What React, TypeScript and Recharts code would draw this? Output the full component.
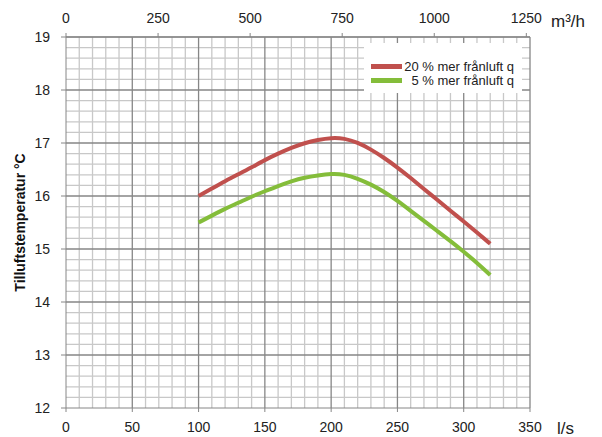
import { LineChart, Line, XAxis, YAxis, ReferenceLine } from 'recharts';

// luftflöde l/s
const flow = [100, 110, 120, 130, 140, 150, 160, 170, 180, 190, 200, 210, 220, 230, 240, 250, 260, 270, 280, 290, 300, 310, 320];
// tilluftstemperatur °C
const temp20 = [16.0, 16.14, 16.28, 16.41, 16.54, 16.68, 16.8, 16.91, 17.0, 17.06, 17.1, 17.09, 17.01, 16.88, 16.72, 16.54, 16.34, 16.13, 15.93, 15.72, 15.52, 15.31, 15.1];
const temp5 = [15.5, 15.63, 15.76, 15.87, 15.99, 16.09, 16.19, 16.28, 16.35, 16.39, 16.42, 16.41, 16.33, 16.22, 16.08, 15.91, 15.72, 15.53, 15.34, 15.15, 14.95, 14.74, 14.51];

const seriesNames = ['20 % mer frånluft q', '5 % mer frånluft q'];
const seriesColors = ['#c0504d', '#84bd3a'];

const lsTicks = [0, 50, 100, 150, 200, 250, 300, 350];
const m3hTicks = [0, 250, 500, 750, 1000, 1250];
const tempTicks = [12, 13, 14, 15, 16, 17, 18, 19];

// fine grid: 10 l/s and 0.2 °C
const minorX = Array.from({ length: 36 }, (_, i) => i * 10).filter((v) => v % 50 !== 0);
const minorY = Array.from({ length: 36 }, (_, i) => +(12 + i * 0.2).toFixed(1)).filter((v) => !Number.isInteger(v));

// 1 l/s = 3.6 m³/h
const data = flow.map((q, i) => ({ q, m3h: q * 3.6, t20: temp20[i], t5: temp5[i] }));

const font = '"Liberation Sans", Arial, sans-serif';
const tickStyle = { fontSize: 14, fill: '#222', fontFamily: font };
const axisGray = '#868686';

export default function App() {
  return (
    <div style={{ position: 'relative', width: 602, height: 437, background: '#fff', fontFamily: font }}>
      <style>{'body{margin:0}'}</style>
      <LineChart width={602} height={437} data={data} margin={{ top: 7, right: 72, bottom: 0, left: 16 }}>
        <XAxis
          xAxisId="ls"
          dataKey="q"
          type="number"
          domain={[0, 350]}
          ticks={lsTicks}
          height={29}
          tickSize={4}
          tickMargin={10}
          tick={tickStyle}
          stroke={axisGray}
          label={{ value: 'l/s', position: 'right', offset: 27, dy: 5, style: { fontSize: 17, fill: '#222', fontFamily: font } }}
        />
        <XAxis
          xAxisId="m3h"
          dataKey="m3h"
          orientation="top"
          type="number"
          domain={[0, 1260]}
          allowDataOverflow
          ticks={m3hTicks}
          interval={0}
          height={30}
          tickSize={4}
          tickMargin={10}
          tick={tickStyle}
          stroke={axisGray}
          label={{ value: 'm³/h', position: 'right', offset: 21, dy: -1, style: { fontSize: 17, fill: '#222', fontFamily: font } }}
        />
        <YAxis
          type="number"
          domain={[12, 19]}
          ticks={tempTicks}
          width={50}
          tickSize={5}
          tickMargin={11}
          tick={tickStyle}
          stroke={axisGray}
          label={{ value: 'Tilluftstemperatur °C', angle: -90, position: 'center', dx: -21, style: { fontSize: 14, fontWeight: 'bold', fill: '#111', fontFamily: font } }}
        />
        {minorX.map((v) => (
          <ReferenceLine key={'mx' + v} xAxisId="ls" x={v} stroke="#c8c8c8" strokeWidth={1.3} />
        ))}
        {minorY.map((v) => (
          <ReferenceLine key={'my' + v} xAxisId="ls" y={v} stroke="#c8c8c8" strokeWidth={1.3} />
        ))}
        {lsTicks.slice(1).map((v) => (
          <ReferenceLine key={'Mx' + v} xAxisId="ls" x={v} stroke={axisGray} strokeWidth={1.3} />
        ))}
        {tempTicks.slice(1).map((v) => (
          <ReferenceLine key={'My' + v} xAxisId="ls" y={v} stroke={axisGray} strokeWidth={1.3} />
        ))}
        <Line xAxisId="ls" type="basis" dataKey="t20" name={seriesNames[0]} stroke={seriesColors[0]} strokeWidth={4} dot={false} isAnimationActive={false} />
        <Line xAxisId="ls" type="basis" dataKey="t5" name={seriesNames[1]} stroke={seriesColors[1]} strokeWidth={4} dot={false} isAnimationActive={false} />
      </LineChart>
      <div
        style={{
          position: 'absolute',
          left: 364,
          top: 43,
          width: 158,
          height: 50,
          background: '#fff',
          boxSizing: 'border-box',
          padding: '16px 8px 0 7px',
          fontSize: 13,
          color: '#222',
        }}
      >
        {seriesNames.map((name, i) => (
          <div key={name} style={{ display: 'flex', alignItems: 'center', height: 14 }}>
            <span style={{ display: 'inline-block', width: 31, height: 5, background: seriesColors[i], marginRight: 2 }} />
            <span style={{ flex: 1, textAlign: 'right', whiteSpace: 'nowrap' }}>{name}</span>
          </div>
        ))}
      </div>
    </div>
  );
}
